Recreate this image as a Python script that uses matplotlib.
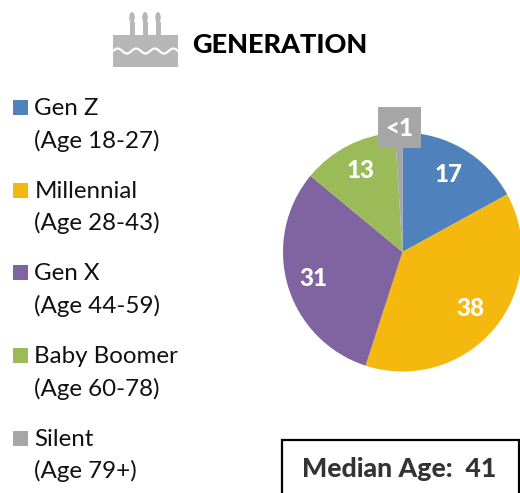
import matplotlib
matplotlib.use('Agg')
import matplotlib.pyplot as plt
import numpy as np
from matplotlib.patches import Rectangle, Ellipse

# Data
generations = ['Gen Z', 'Millennial', 'Gen X', 'Baby Boomer', 'Silent']
age_ranges = ['(Age 18-27)', '(Age 28-43)', '(Age 44-59)', '(Age 60-78)', '(Age 79+)']
shares = [17, 38, 31, 13, 1]
share_labels = ['17', '38', '31', '13', '<1']
colors = ['#4F81BD', '#F5B80F', '#8064A2', '#9BBB59', '#A6A6A6']

plt.rcParams['font.family'] = ['Lato', 'DejaVu Sans']

W, H = 520, 493
fig = plt.figure(figsize=(W / 100, H / 100), dpi=100)
ax = fig.add_axes([0, 0, 1, 1])
ax.set_xlim(0, W)
ax.set_ylim(0, H)
ax.axis('off')


def Y(py):
    # picture pixels count from the top
    return H - py


# Pie
ax.pie(shares, colors=colors, startangle=90, counterclock=False,
       center=(402.5, Y(252)), radius=119.5, frame=False,
       wedgeprops={'linewidth': 0})
ax.set_xlim(0, W)
ax.set_ylim(0, H)
ax.set_aspect('auto')

# Slice labels
label_xy = [(449, 174), (470, 309), (313, 279), (361, 171), (399, 128)]
ax.add_patch(Rectangle((378, Y(148)), 43, 41, facecolor='#A6A6A6', edgecolor='none', zorder=3))
for lab, (x, y) in zip(share_labels, label_xy):
    ax.text(x, Y(y), lab, color='white', fontsize=17.5, fontweight=900,
            ha='center', va='center', zorder=4)

# Legend
for i, (g, a, c) in enumerate(zip(generations, age_ranges, colors)):
    top = 100 + i * 82.7
    ax.add_patch(Rectangle((13, Y(top + 15)), 15, 15, facecolor=c, edgecolor='none'))
    ax.text(34.5, Y(top + 8.5), g, fontsize=17.4, color='#111111', ha='left', va='center')
    ax.text(34.5, Y(top + 40.5), a, fontsize=17.4, color='#111111', ha='left', va='center')

# Title and cake icon
ax.text(192, Y(45), 'GENERATION', fontsize=19.5, fontweight=900, color='black',
        ha='left', va='center')

cake = '#B7B7B7'
ax.add_patch(Rectangle((113, Y(67)), 65, 32, facecolor=cake, edgecolor='none'))
for cx in (132, 145, 158):
    ax.add_patch(Rectangle((cx - 2.5, Y(36)), 5, 14, facecolor=cake, edgecolor='none'))
    ax.add_patch(Ellipse((cx, Y(17.5)), 5.5, 11, facecolor=cake, edgecolor='none'))
wx = np.linspace(113, 178, 120)
ax.plot(wx, Y(51) + 2.5 * np.sin((wx - 113) / 65 * 2 * np.pi * 3.5), color='white', lw=1.6)

# Median box
ax.add_patch(Rectangle((281.5, Y(500)), 237, 60, facecolor='white', edgecolor='black', lw=1.6, zorder=5))
ax.text(399.5, Y(469), 'Median Age:  41', fontsize=19.2, fontweight=900, color='#333333',
        ha='center', va='center', zorder=6)

fig.savefig('out.png', dpi=100)
